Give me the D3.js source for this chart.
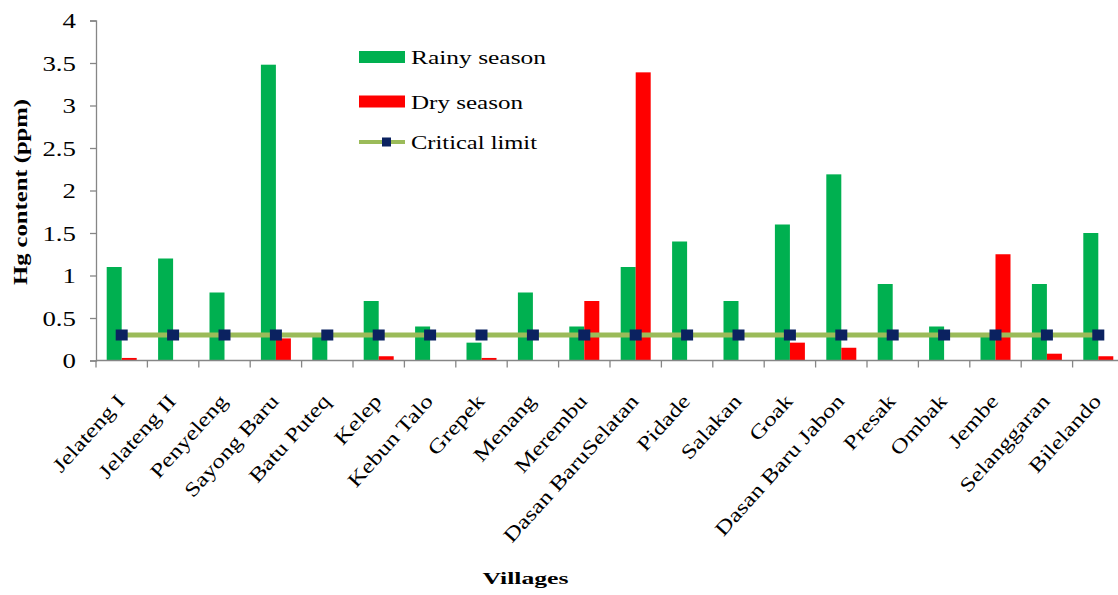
<!DOCTYPE html>
<html>
<head>
<meta charset="utf-8">
<script src="https://cdn.jsdelivr.net/npm/d3@7"></script>
<style>
  html, body { margin: 0; padding: 0; background: #fff; }
  svg { display: block; font-family: "Liberation Serif", "Times New Roman", serif; }
</style>
</head>
<body>
<svg id="chart" width="1118" height="595"></svg>
<script>
const villages = ["Jelateng I", "Jelateng II", "Penyeleng", "Sayong Baru", "Batu Puteq", "Kelep",
  "Kebun Talo", "Grepek", "Menang", "Merembu", "Dasan BaruSelatan", "Pidade", "Salakan", "Goak",
  "Dasan Baru Jabon", "Presak", "Ombak", "Jembe", "Selanggaran", "Bilelando"];
const rainySeason = [1.1, 1.2, 0.8, 3.48, 0.28, 0.7, 0.4, 0.21, 0.8, 0.4, 1.1, 1.4, 0.7, 1.6, 2.19, 0.9, 0.4, 0.28, 0.9, 1.5];
const drySeason   = [0.03, 0, 0, 0.26, 0, 0.05, 0, 0.03, 0, 0.7, 3.39, 0, 0, 0.21, 0.15, 0, 0, 1.25, 0.08, 0.05];
const criticalLimit = villages.map(() => 0.3);
const yTicks = [0, 0.5, 1, 1.5, 2, 2.5, 3, 3.5, 4];
const seriesNames = ["Rainy season", "Dry season", "Critical limit"];

const colors = { rainy: "#00B050", dry: "#FF0000", line: "#9BBB59", marker: "#0B2260", axis: "#868686" };

const svg = d3.select("#chart");
const x0 = 96, x1 = 96 + 20 * 51.4;
const yBottom = 360.5, yTop = 20.5;

const x = d3.scaleBand().domain(villages).range([x0, x1]).padding(0);
const xs = d3.scaleBand().domain(["rainy", "dry"]).range([10.7, x.bandwidth() - 10.7]).padding(0);
const y = d3.scaleLinear().domain([0, 4]).range([yBottom, yTop]);

function stretch(sel, factor) {
  sel.each(function () {
    const w = this.getComputedTextLength();
    d3.select(this).attr("textLength", w * factor).attr("lengthAdjust", "spacingAndGlyphs");
  });
}

// bars
const data = villages.map((v, i) => ({ v, rainy: rainySeason[i], dry: drySeason[i], crit: criticalLimit[i] }));
const g = svg.append("g");
g.selectAll(".grp").data(data).join("g")
  .attr("transform", d => `translate(${x(d.v)},0)`)
  .each(function (d) {
    const sel = d3.select(this);
    [["rainy", colors.rainy], ["dry", colors.dry]].forEach(([k, c]) => {
      if (d[k] > 0) {
        sel.append("rect")
          .attr("x", xs(k)).attr("width", xs.bandwidth())
          .attr("y", y(d[k])).attr("height", y(0) - y(d[k]))
          .attr("fill", c);
      }
    });
  });

// axes
const yAxis = d3.axisLeft(y).tickValues(yTicks).tickSize(6).tickPadding(14)
  .tickFormat(d => String(d));
const ya = svg.append("g").attr("transform", `translate(${x0},0)`).call(yAxis);
ya.select(".domain").attr("stroke", colors.axis).attr("stroke-width", 1.3);
ya.selectAll(".tick line").attr("stroke", colors.axis).attr("stroke-width", 1.3);
ya.selectAll(".tick text").attr("font-size", 22).attr("fill", "#000")
  .attr("font-family", "Liberation Serif").call(stretch, 1.22);

// x axis: line + boundary ticks
const xa = svg.append("g");
xa.append("line").attr("x1", x0).attr("x2", x1).attr("y1", yBottom).attr("y2", yBottom)
  .attr("stroke", colors.axis).attr("stroke-width", 1.3);
const boundaries = villages.map(v => x(v)).concat([x1]);
xa.selectAll(".xt").data(boundaries).join("line")
  .attr("x1", d => d).attr("x2", d => d).attr("y1", yBottom).attr("y2", yBottom + 7)
  .attr("stroke", colors.axis).attr("stroke-width", 1.3);

// x labels
svg.append("g").selectAll("text").data(villages).join("text")
  .attr("transform", d => `translate(${x(d) + x.bandwidth() / 2 + 4},402) rotate(-48)`)
  .attr("text-anchor", "end")
  .attr("font-size", 20)
  .text(d => d)
  .call(stretch, 1.25);

// critical limit line
const line = d3.line().x(d => x(d.v) + x.bandwidth() / 2).y(d => y(d.crit));
svg.append("path").datum(data).attr("d", line)
  .attr("fill", "none").attr("stroke", colors.line).attr("stroke-width", 5);
const ms = 12;
svg.append("g").selectAll("rect").data(data).join("rect")
  .attr("x", d => x(d.v) + x.bandwidth() / 2 - ms / 2)
  .attr("y", d => y(d.crit) - ms / 2 + 0.5)
  .attr("width", ms).attr("height", ms - 1)
  .attr("fill", colors.marker);

// axis titles
svg.append("text")
  .attr("transform", "translate(27,192) rotate(-90)")
  .attr("text-anchor", "middle")
  .attr("font-size", 19).attr("font-weight", "bold")
  .attr("textLength", 186).attr("lengthAdjust", "spacingAndGlyphs")
  .text("Hg content (ppm)");

svg.append("text")
  .attr("x", 525.5).attr("y", 584)
  .attr("text-anchor", "middle")
  .attr("font-size", 17).attr("font-weight", "bold")
  .attr("textLength", 86).attr("lengthAdjust", "spacingAndGlyphs")
  .text("Villages");

// legend
const legend = svg.append("g");
const ly = [57, 101.5, 142];
legend.append("rect").attr("x", 359).attr("y", ly[0] - 6).attr("width", 46).attr("height", 12).attr("fill", colors.rainy);
legend.append("rect").attr("x", 359).attr("y", ly[1] - 6).attr("width", 46).attr("height", 12).attr("fill", colors.dry);
legend.append("line").attr("x1", 359).attr("x2", 405).attr("y1", ly[2]).attr("y2", ly[2])
  .attr("stroke", colors.line).attr("stroke-width", 4);
legend.append("rect").attr("x", 382).attr("y", ly[2] - 4.5).attr("width", 9).attr("height", 9).attr("fill", colors.marker);
const lw = [135, 112, 126];
legend.selectAll(".lt").data(seriesNames).join("text")
  .attr("x", 411).attr("y", (d, i) => ly[i] + 7)
  .attr("font-size", 19)
  .attr("textLength", (d, i) => lw[i]).attr("lengthAdjust", "spacingAndGlyphs")
  .text(d => d);
</script>
</body>
</html>
